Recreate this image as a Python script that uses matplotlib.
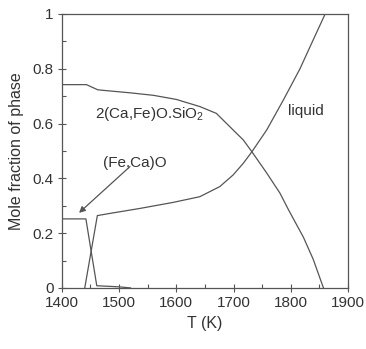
import matplotlib.pyplot as plt
from matplotlib.ticker import MultipleLocator, FuncFormatter

plt.rcParams['font.family'] = ['Liberation Sans', 'DejaVu Sans']
plt.rcParams['mathtext.fontset'] = 'custom'
plt.rcParams['mathtext.rm'] = 'Liberation Sans'
plt.rcParams['mathtext.default'] = 'regular'

# 2(Ca,Fe)O.SiO2
T_c2s = [1400, 1443, 1463, 1520, 1560, 1600, 1641, 1670, 1699, 1717, 1732, 1758, 1781, 1796, 1822, 1839, 1857]
f_c2s = [0.742, 0.742, 0.723, 0.712, 0.703, 0.688, 0.662, 0.637, 0.577, 0.54, 0.497, 0.419, 0.346, 0.285, 0.185, 0.105, 0.0]

# liquid
T_liq = [1440, 1462, 1484, 1536, 1594, 1641, 1676, 1699, 1717, 1732, 1758, 1787, 1816, 1839, 1860]
f_liq = [0.0, 0.264, 0.272, 0.29, 0.312, 0.333, 0.37, 0.412, 0.455, 0.497, 0.577, 0.686, 0.8, 0.905, 1.0]

# (Fe,Ca)O
T_fco = [1400, 1442, 1461, 1500, 1520]
f_fco = [0.252, 0.252, 0.008, 0.004, 0.0]

line_col = '#555555'
txt_col = '#333333'

fig = plt.figure(figsize=(3.66, 3.49), dpi=100)
ax = fig.add_axes([0.169, 0.175, 0.782, 0.785])

ax.plot(T_c2s, f_c2s, color=line_col, lw=0.9)
ax.plot(T_liq, f_liq, color=line_col, lw=0.9)
ax.plot(T_fco, f_fco, color=line_col, lw=0.9)

ax.set_xlim(1400, 1900)
ax.set_ylim(0, 1)
ax.xaxis.set_major_locator(MultipleLocator(100))
ax.xaxis.set_minor_locator(MultipleLocator(50))
ax.yaxis.set_major_locator(MultipleLocator(0.2))
ax.yaxis.set_minor_locator(MultipleLocator(0.1))
ax.yaxis.set_major_formatter(FuncFormatter(lambda v, p: f'{v:g}'))

ax.tick_params(which='major', direction='inout', length=6, width=0.8,
               color=line_col, labelsize=11, labelcolor=txt_col, pad=3)
ax.tick_params(which='minor', direction='in', length=3, width=0.8, color=line_col)
for s in ax.spines.values():
    s.set_color(line_col)
    s.set_linewidth(0.9)

ax.set_xlabel('T (K)', fontsize=11.5, color=txt_col, labelpad=4)
ax.set_ylabel('Mole fraction of phase', fontsize=11.5, color=txt_col, labelpad=6)

ax.text(1554, 0.635, '2(Ca,Fe)O.SiO$_2$', fontsize=11, color=txt_col, ha='center', va='center')
ax.text(1827, 0.646, 'liquid', fontsize=11, color=txt_col, ha='center', va='center')
ax.text(1528, 0.456, '(Fe,Ca)O', fontsize=11, color=txt_col, ha='center', va='center')
ax.annotate('', xy=(1430, 0.274), xytext=(1519, 0.443),
            arrowprops=dict(arrowstyle='-|>', color=line_col, lw=0.9,
                            mutation_scale=9, shrinkA=0, shrinkB=0))

fig.savefig('out.png', dpi=100)
